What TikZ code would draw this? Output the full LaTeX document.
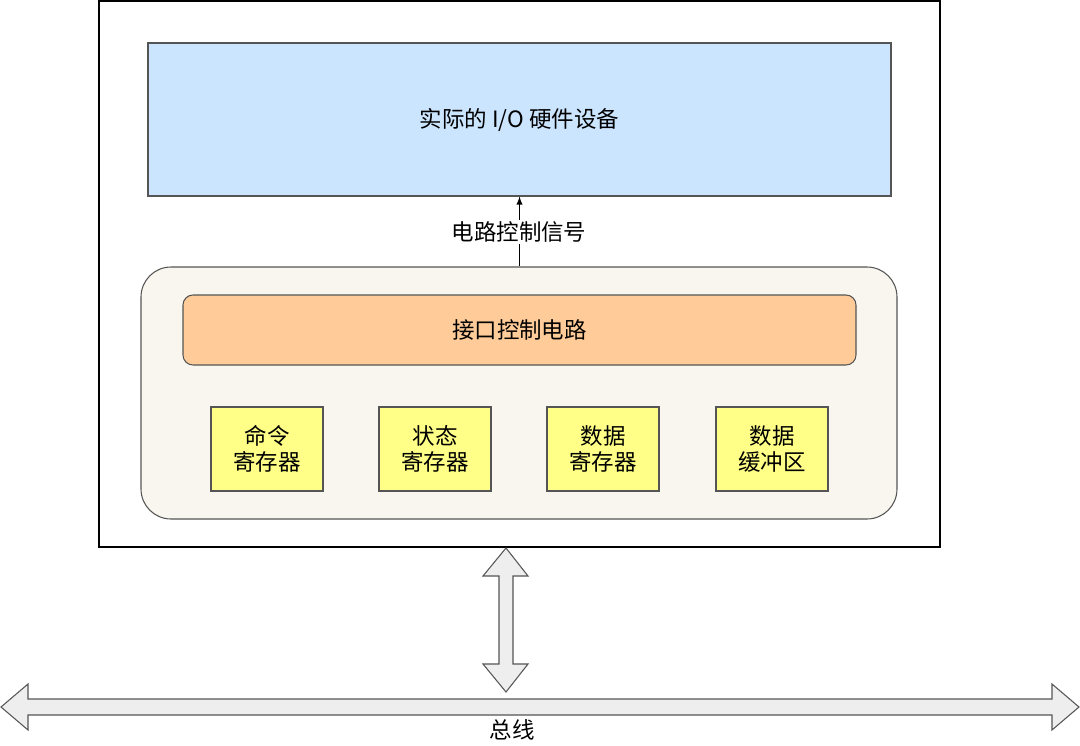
\documentclass[tikz,border=0pt]{standalone}
\usepackage{fontspec}
\setmainfont{Noto Sans CJK SC}
\usepackage{tikz}

\definecolor{devblue}{HTML}{CCE5FF}
\definecolor{ctlorange}{HTML}{FFCC99}
\definecolor{regyellow}{HTML}{FFFF88}
\definecolor{portfill}{HTML}{F8F6EE}
\definecolor{busfill}{HTML}{EEEEEE}
\definecolor{edgegray}{HTML}{555555}

\tikzset{
	box/.style={draw=edgegray,line width=0.6pt,inner sep=0pt,font=\fontsize{12.8pt}{15pt}\selectfont},
	reg/.style={box,fill=regyellow,minimum width=112*0.02cm,minimum height=84*0.02cm,align=center},
	busarrow/.style={draw=edgegray,fill=busfill,line width=0.6pt}
}

\begin{document}
\begin{tikzpicture}[x=0.02cm,y=-0.02cm]
	\useasboundingbox (0,0) rectangle (1080,745);
	%interface outer box
	\draw[black,line width=0.7pt,fill=white] (99,1) rectangle (940,547);
	
	%actual device
	\node[box,fill=devblue,minimum width=743*0.02cm,minimum height=153*0.02cm] (dev) at (519.5,119.5) {实际的 I/O 硬件设备};
	
	%interface rounded box
	\node[box,fill=portfill,rounded corners=30*0.02cm,minimum width=756*0.02cm,minimum height=252*0.02cm] (port) at (519,393) {};
	\node[box,fill=ctlorange,rounded corners=10*0.02cm,minimum width=673*0.02cm,minimum height=70*0.02cm] (ctl) at (519.5,330) {接口控制电路};
	
	%registers
	\node[reg] (cmd)  at (267,449) {命令\\寄存器};
	\node[reg] (stat) at (435,449) {状态\\寄存器};
	\node[reg] (data) at (603,449) {数据\\寄存器};
	\node[reg] (buf)  at (772,449) {数据\\缓冲区};
	
	%control signal
	\draw[-latex,line width=0.6pt] (port.north -| dev.south) -- (dev.south);
	\node[fill=white,inner sep=1pt,font=\fontsize{12.8pt}{15pt}\selectfont] (sig) at (519,232) {电路控制信号};
	
	%vertical double arrow
	\draw[busarrow] (506,548)--(528,576)--(513,576)--(513,664)--(528,664)--(506,692)--(483,664)--(499,664)--(499,576)--(483,576)--cycle;
	
	%bus
	\draw[busarrow] (1,707)--(28,684)--(28,699)--(1052,699)--(1052,684)--(1079,707)--(1052,730)--(1052,715)--(28,715)--(28,730)--cycle;
	\node[font=\fontsize{12.8pt}{15pt}\selectfont] (bus) at (512,730) {总线};
\end{tikzpicture}
\end{document}
